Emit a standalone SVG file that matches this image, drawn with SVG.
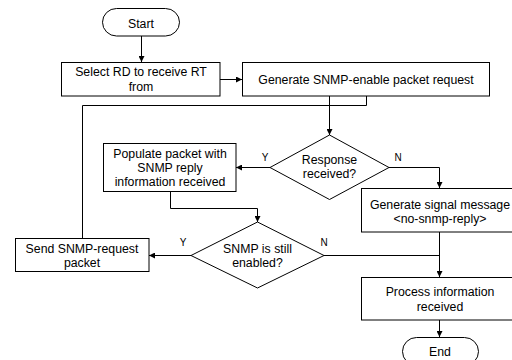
<svg xmlns="http://www.w3.org/2000/svg" width="512" height="360" viewBox="0 0 512 360">
<defs>
<marker id="ah" viewBox="0 0 10 10" refX="10" refY="5" markerWidth="6" markerHeight="6" markerUnits="userSpaceOnUse" orient="auto">
<path d="M0,0 L10,5 L0,10 z" fill="#000"/>
</marker>
<style>
.s{fill:#fff;stroke:#000;stroke-width:1}
.t{font-family:"Liberation Sans",Arial,sans-serif;font-size:12.3px;fill:#000;text-anchor:middle}
.l{font-family:"Liberation Sans",Arial,sans-serif;font-size:10px;fill:#000;text-anchor:middle}
.c{fill:none;stroke:#000;stroke-width:1}
.a{marker-end:url(#ah)}
</style>
</defs>
<rect width="512" height="360" fill="#fff"/>
<g id="connectors">
<path class="c a" d="M141.5,36 V62"/>
<path class="c a" d="M220,79.5 H242"/>
<path class="c a" d="M329.5,96 V135"/>
<path class="c a" d="M270,167.5 H236"/>
<path class="c a" d="M389,167.5 H439.5 V188"/>
<path class="c a" d="M170.5,191 V208.5 H257.5 V222"/>
<path class="c a" d="M191,255.5 H149"/>
<path class="c" d="M324,255.5 H439.5"/>
<path class="c a" d="M439.5,232 V277"/>
<path class="c" d="M82.5,238 V105.5 H366.5 V96"/>
<path class="c a" d="M439.5,320 V337"/>
<text class="l" x="265" y="161">Y</text>
<text class="l" x="398" y="161">N</text>
<text class="l" x="183" y="246">Y</text>
<text class="l" x="324" y="246">N</text>
</g>
<g id="start">
<rect class="s" x="102.5" y="8.5" width="77" height="27.5" rx="14" ry="14"/>
<text class="t" x="141" y="27.5">Start</text>
</g>
<g id="select">
<rect class="s" x="61.5" y="62.5" width="158.5" height="33.5"/>
<text class="t" x="141" y="76">Select RD to receive RT</text>
<text class="t" x="141" y="90.5">from</text>
</g>
<g id="generate">
<rect class="s" x="242.5" y="62.5" width="247" height="33.5"/>
<text class="t" x="366" y="83.5">Generate SNMP-enable packet request</text>
</g>
<g id="response">
<path class="s" d="M329.5,135 L389,167.5 L329.5,199.5 L270,167.5 z"/>
<text class="t" x="329.5" y="164">Response</text>
<text class="t" x="329.5" y="178">received?</text>
</g>
<g id="populate">
<rect class="s" x="103.5" y="143.5" width="132.5" height="48"/>
<text class="t" x="170" y="157.5">Populate packet with</text>
<text class="t" x="170" y="171.5">SNMP reply</text>
<text class="t" x="170" y="185.5">information received</text>
</g>
<g id="signal">
<rect class="s" x="361.5" y="188.5" width="156" height="43.5"/>
<text class="t" x="440" y="208.5">Generate signal message</text>
<text class="t" x="440" y="223">&lt;no-snmp-reply&gt;</text>
</g>
<g id="snmp">
<path class="s" d="M257.5,222 L324,255.5 L257.5,288 L191,255.5 z"/>
<text class="t" x="257.5" y="252.5">SNMP is still</text>
<text class="t" x="257.5" y="266.5">enabled?</text>
</g>
<g id="send">
<rect class="s" x="15.5" y="238.5" width="133.5" height="33"/>
<text class="t" x="82" y="252.5">Send SNMP-request</text>
<text class="t" x="82" y="266.5">packet</text>
</g>
<g id="process">
<rect class="s" x="361.5" y="277.5" width="156" height="42.5"/>
<text class="t" x="440" y="296">Process information</text>
<text class="t" x="440" y="310.5">received</text>
</g>
<g id="end">
<rect class="s" x="402.5" y="337.5" width="76" height="28" rx="14" ry="14"/>
<text class="t" x="440" y="355.5">End</text>
</g>
</svg>
